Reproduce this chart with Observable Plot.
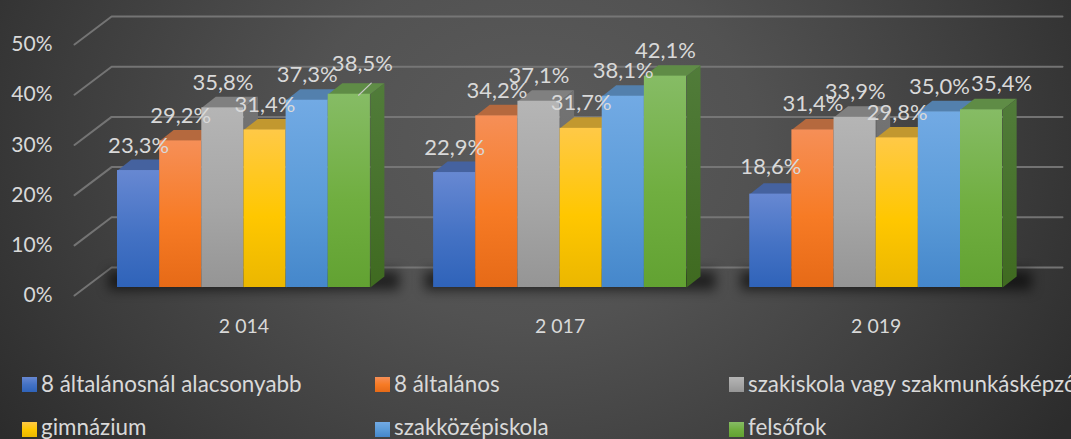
<!DOCTYPE html>
<html>
<head>
<meta charset="utf-8">
<script src="https://cdn.jsdelivr.net/npm/d3@7"></script>
<script src="https://cdn.jsdelivr.net/npm/@observablehq/plot@0.6"></script>
<style>
html,body{margin:0;padding:0;width:1071px;height:439px;overflow:hidden;}
body{background:radial-gradient(ellipse 640px 520px at 530px 140px,#5b5b5b 0%,#525252 35%,#3d3d3d 72%,#2c2c2c 100%);font-family:Lato,sans-serif;position:relative;}
#chart svg{display:block;background:transparent;overflow:visible;}
#legend{position:absolute;left:0;top:360px;width:1071px;height:79px;overflow:hidden;color:#d9d9d9;font:22.4px Lato,sans-serif;}
.item{position:absolute;white-space:nowrap;line-height:24px;}
.sw{position:absolute;width:15px;height:15px;}
</style>
</head>
<body>
<div id="chart"></div>
<div id="legend"></div>
<script>
const years = ["2 014", "2 017", "2 019"];
const series = ["8 általánosnál alacsonyabb", "8 általános", "szakiskola vagy szakmunkásképző", "gimnázium", "szakközépiskola", "felsőfok"];
const values2014 = [23.3, 29.2, 35.8, 31.4, 37.3, 38.5];
const values2017 = [22.9, 34.2, 37.1, 31.7, 38.1, 42.1];
const values2019 = [18.6, 31.4, 33.9, 29.8, 35.0, 35.4];
const yTicks = [0, 10, 20, 30, 40, 50];

// styles
const frontStops = [["#6788d2","#4472c4","#2f63b9"],["#f68f57","#f77b25","#e66a17"],["#b5b5b5","#a6a6a6","#959595"],["#ffc947","#ffc700","#ebb700"],["#72aae4","#5b9bd8","#4587cb"],["#86bc65","#70ae40","#62a232"]];
const topColors = ["#45629f","#b5693e","#808080","#c2982f","#5380ad","#5f8c46"];
const sideColors = [["#3d5a94","#2c4b85"],["#a9562a","#8e4d1c"],["#747474","#636363"],["#b5902a","#9a7a10"],["#4b7aa8","#376595"],["#517c3a","#3f6a20"]];
const textColor = "#d9d9d9";

// geometry in scale units (one x unit = one bar)
const groupPitch = 7.5, depthX = 0.332, depthY = 2.19;
const floorLeft = -1.02, wallLeft = -0.14, wallRight = 22.42, floorDrop = -1.6, wallRise = 3.98;
const labelNudge = {"0-5": [13, -5], "2-0": [0, -2], "2-1": [0, -1], "2-5": [20, -1]};

const allValues = [values2014, values2017, values2019];
const bars = allValues.flatMap((vals, g) => vals.map((v, s) => ({g, s, v, x0: g * groupPitch + s, x1: g * groupPitch + s + 1})));

const marks = [];
// walls
for (const t of yTicks) {
  marks.push(Plot.line([[floorLeft, t + floorDrop], [wallLeft, t + wallRise], [wallRight, t + wallRise]], {x: d => d[0], y: d => d[1], stroke: "#7a7a7a", strokeWidth: 2, strokeOpacity: 0.9}));
}
// floor shadows
years.forEach((_, g) => marks.push(Plot.rect([g], {
  x1: d => d * groupPitch - 0.2, x2: d => d * groupPitch + 6.7,
  y1: -0.6, y2: 3.2, fill: "#000", fillOpacity: 0.6, imageFilter: "blur(6px)"
})));
// bars
for (const b of bars) {
  const top = [[b.x0, b.v], [b.x1, b.v], [b.x1 + depthX, b.v + depthY], [b.x0 + depthX, b.v + depthY]];
  const side = [[b.x1, 0], [b.x1 + depthX, depthY], [b.x1 + depthX, b.v + depthY], [b.x1, b.v]];
  marks.push(Plot.line(top, {x: d => d[0], y: d => d[1], fill: topColors[b.s], stroke: "none"}));
  marks.push(Plot.line(side, {x: d => d[0], y: d => d[1], fill: `url(#side${b.s})`, stroke: "none"}));
  marks.push(Plot.rect([b], {x1: "x0", x2: "x1", y1: 0, y2: "v", fill: `url(#front${b.s})`, stroke: "none"}));
}
// axes
marks.push(Plot.axisY({ticks: yTicks, tickSize: 0, tickPadding: 0, dy: 8, tickFormat: d => d + "%", fontSize: 21, fill: textColor, label: null, anchor: "left"}));
marks.push(Plot.axisX({ticks: years.map((_, g) => g * groupPitch + 3), tickSize: 0, tickPadding: 32, tickFormat: (d, i) => years[i], fontSize: 19.5, fill: textColor, label: null, anchor: "bottom"}));
// leader line
marks.push(Plot.line([[4 + 1.0 + 0.72, 38.5 - 0.2], [5 + 1.02, 38.5 + 2.2]], {x: d => d[0], y: d => d[1], stroke: "#c8c8c8", strokeWidth: 1.2}));
// value labels
marks.push(Plot.text(bars, {
  x: d => d.x0 + 0.5, y: "v",
  text: d => d.v.toFixed(1).replace(".", ",") + "%",
  dx: 0, dy: -25, fontSize: 22, fill: textColor, textAnchor: "middle",
  render(index, scales, values, dims, ctx, next) {
    const g = next(index, scales, values, dims, ctx);
    d3.select(g).selectAll("text").each(function(_, i) {
      const b = bars[index[i]], n = labelNudge[b.g + "-" + b.s];
      if (n) {
        const cur = d3.select(this).attr("transform") || "";
        d3.select(this).attr("transform", `translate(${n[0]},${n[1]}) ${cur}`);
      }
    });
    return g;
  }
}));

const chart = Plot.plot({
  width: 1071, height: 360,
  marginLeft: 52, marginBottom: 73, marginTop: 0, marginRight: 0,
  style: {background: "transparent", fontFamily: "Lato, sans-serif", color: textColor},
  x: {type: "linear", domain: [0, 20], range: [117, 117 + 20 * 42.15], axis: null},
  y: {type: "linear", domain: [0, 50], range: [287, 36], axis: null},
  marks
});

const defs = d3.select(chart).insert("defs", ":first-child");
frontStops.forEach((st, i) => {
  const g = defs.append("linearGradient").attr("id", "front" + i).attr("x1", 0).attr("y1", 0).attr("x2", 0).attr("y2", 1);
  st.forEach((c, k) => g.append("stop").attr("offset", [0, 0.55, 1][k]).attr("stop-color", c));
  const s = defs.append("linearGradient").attr("id", "side" + i).attr("x1", 0).attr("y1", 0).attr("x2", 0).attr("y2", 1);
  sideColors[i].forEach((c, k) => s.append("stop").attr("offset", k).attr("stop-color", c));
});
document.getElementById("chart").append(chart);

// legend
const colX = [22, 375, 729], rowY = [17, 62], rowText = [12, 55];
const legend = d3.select("#legend");
series.forEach((name, i) => {
  const col = i % 3, row = Math.floor(i / 3);
  legend.append("div").attr("class", "sw")
    .style("left", colX[col] + "px").style("top", rowY[row] + "px")
    .style("background", `linear-gradient(${frontStops[i].join(",")})`);
  legend.append("div").attr("class", "item")
    .style("left", colX[col] + 19 + "px").style("top", rowText[row] + "px")
    .text(name);
});
</script>
</body>
</html>
